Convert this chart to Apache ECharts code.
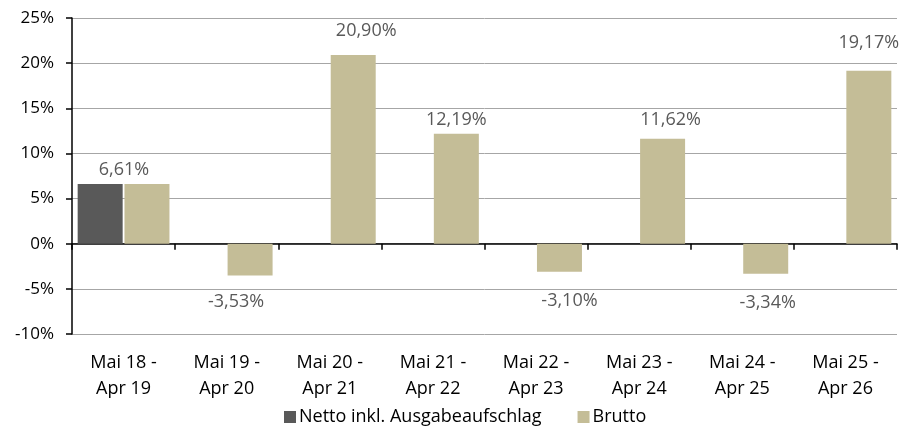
<!DOCTYPE html>
<html>
<head>
<meta charset="utf-8">
<script src="https://cdn.jsdelivr.net/npm/echarts@6/dist/echarts.min.js"></script>
<style>html,body{margin:0;padding:0;background:#fff;}#c{width:918px;height:434px;}</style>
</head>
<body>
<div id="c"></div>
<script>
var categories = ['Mai 18 -\nApr 19','Mai 19 -\nApr 20','Mai 20 -\nApr 21','Mai 21 -\nApr 22','Mai 22 -\nApr 23','Mai 23 -\nApr 24','Mai 24 -\nApr 25','Mai 25 -\nApr 26'];
var nettoValues = [6.61, null, null, null, null, null, null, null];
var bruttoValues = [6.61, -3.53, 20.90, 12.19, -3.10, 11.62, -3.34, 19.17];
var seriesNames = ['Netto inkl. Ausgabeaufschlag', 'Brutto'];
var yTicks = {min: -10, max: 25, interval: 5};

// label nudges (style only)
var labelShift = [[-23,0],[-14,12],[13,-10],[0,0],[10,15],[8,-5],[2,15],[0,-14]];

var FONT = 'Open Sans';
function fmt(v){ return v.toFixed(2).replace('.', ',') + '%'; }

var bruttoData = bruttoValues.map(function(v, i){
  return {value: v, label: {position: v >= 0 ? 'top' : 'bottom', offset: labelShift[i]}};
});

var chart = echarts.init(document.getElementById('c'));
chart.setOption({
  animation: false,
  textStyle: {fontFamily: FONT},
  grid: {left: 72, right: 21, top: 18, bottom: 100, containLabel: false, outerBoundsMode: 'none'},
  legend: {
    bottom: 3, left: 279,
    itemWidth: 12, itemHeight: 12, itemGap: 36,
    icon: 'rect',
    textStyle: {fontFamily: FONT, fontSize: 18, color: '#000', padding: [0,0,0,-2]},
    data: seriesNames
  },
  xAxis: [{
    type: 'category', data: categories, position: 'bottom',
    axisLine: {show: false, onZero: false}, axisTick: {show: false},
    axisLabel: {fontFamily: FONT, fontSize: 18, color: '#000', lineHeight: 26, margin: 16, interval: 0}
  }, {
    type: 'category', data: categories, position: 'bottom',
    axisLine: {show: true, onZero: true, onZeroAxisIndex: 0, lineStyle: {color: '#000', width: 1.5}},
    axisTick: {show: true, length: 6, lineStyle: {color: '#000', width: 1.5}},
    axisLabel: {show: false}
  }],
  yAxis: {
    type: 'value', min: yTicks.min, max: yTicks.max, interval: yTicks.interval,
    axisLine: {show: true, lineStyle: {color: '#000', width: 1.5}},
    axisTick: {show: true, length: 6, lineStyle: {color: '#000', width: 1.5}},
    splitLine: {show: true, lineStyle: {color: '#a6a6a6', width: 1}},
    axisLabel: {fontFamily: FONT, fontSize: 17, color: '#000', margin: 18, formatter: '{value}%'}
  },
  series: [{
    name: seriesNames[0], type: 'bar', xAxisIndex: 0, data: nettoValues,
    barWidth: 45, barGap: '4%',
    itemStyle: {color: '#595959'}
  }, {
    name: seriesNames[1], type: 'bar', xAxisIndex: 0, data: bruttoData,
    barWidth: 45, barGap: '4%',
    itemStyle: {color: '#C4BD97'},
    label: {show: true, distance: 5, fontFamily: FONT, fontSize: 18, color: '#595959',
      formatter: function(p){ return fmt(p.value); }}
  }]
});
</script>
</body>
</html>
